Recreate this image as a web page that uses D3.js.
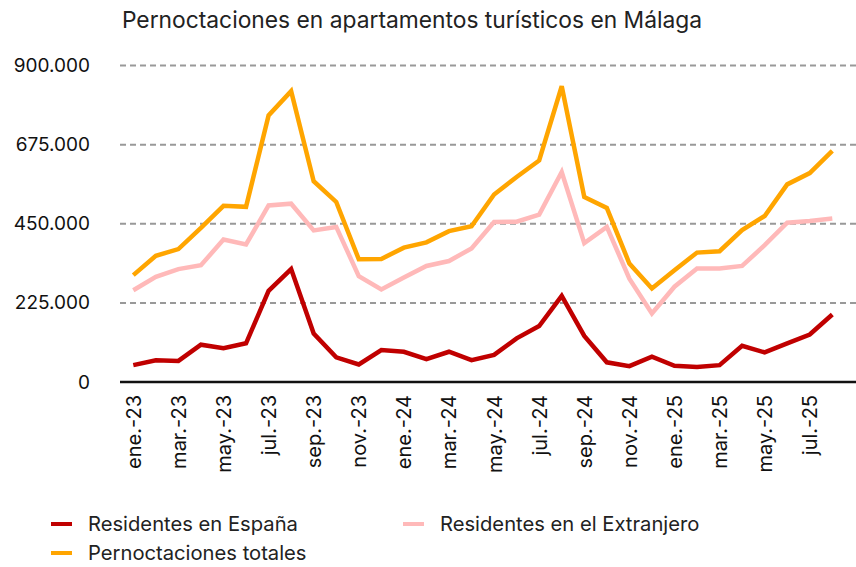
<!DOCTYPE html>
<html>
<head>
<meta charset="utf-8">
<script src="https://cdn.jsdelivr.net/npm/d3@7"></script>
<style>
  body { margin: 0; background: #fff; }
  svg { display: block; font-family: Inter, sans-serif; }
</style>
</head>
<body>
<div id="chart"></div>
<script>
let months = [
  "ene.-23", "feb.-23", "mar.-23", "abr.-23", "may.-23", "jun.-23", "jul.-23", "ago.-23",
  "sep.-23", "oct.-23", "nov.-23", "dic.-23", "ene.-24", "feb.-24", "mar.-24", "abr.-24",
  "may.-24", "jun.-24", "jul.-24", "ago.-24", "sep.-24", "oct.-24", "nov.-24", "dic.-24",
  "ene.-25", "feb.-25", "mar.-25", "abr.-25", "may.-25", "jun.-25", "jul.-25", "ago.-25"
];

let residentesEspana = [
  48000, 62000, 60000, 106000, 96000, 110000, 259000, 321000,
  138000, 70000, 50000, 91000, 86000, 65000, 86000, 62000,
  77000, 124000, 159000, 245000, 131000, 56000, 45000, 72000,
  46000, 43000, 48000, 103000, 84000, 110000, 135000, 192000
];

let residentesExtranjero = [
  261000, 299000, 321000, 332000, 405000, 391000, 502000, 507000,
  431000, 441000, 301000, 263000, 297000, 330000, 344000, 380000,
  455000, 456000, 476000, 597000, 395000, 441000, 294000, 195000,
  271000, 323000, 323000, 330000, 389000, 453000, 458000, 465000
];

let pernoctacionesTotales = [
  304000, 359000, 378000, 438000, 501000, 498000, 758000, 827000,
  571000, 512000, 349000, 350000, 382000, 397000, 429000, 443000,
  533000, 583000, 630000, 841000, 526000, 495000, 337000, 266000,
  318000, 368000, 372000, 432000, 472000, 562000, 594000, 657000
];

let yTicks = [0, 225000, 450000, 675000, 900000];

let series = [
  { name: "Residentes en España", values: residentesEspana, color: "#c00000" },
  { name: "Residentes en el Extranjero", values: residentesExtranjero, color: "#ffb9b9" },
  { name: "Pernoctaciones totales", values: pernoctacionesTotales, color: "#ffa500" }
];

let width = 856, height = 567;

let svg = d3.select("#chart")
  .append("svg")
  .attr("width", width)
  .attr("height", height);

let x = d3.scalePoint().domain(months).range([133.3, 832.3]);
let y = d3.scaleLinear().domain([0, 900000]).range([382, 65.5]);

let fmt = d3.formatLocale({ decimal: ",", thousands: ".", grouping: [3], currency: ["", "€"] }).format(",d");

// title
svg.append("text")
  .attr("x", 412)
  .attr("y", 28)
  .attr("text-anchor", "middle")
  .style("font-size", "22.8px")
  .style("fill", "#222")
  .text("Pernoctaciones en apartamentos turísticos en Málaga");

// gridlines
svg.append("g")
  .selectAll("line")
  .data(yTicks.filter(d => d > 0))
  .enter()
  .append("line")
  .attr("x1", 120)
  .attr("x2", 856)
  .attr("y1", d => y(d))
  .attr("y2", d => y(d))
  .attr("stroke", "#999")
  .attr("stroke-width", 2)
  .attr("stroke-dasharray", "6,4");

// y axis labels
let yAxis = svg.append("g")
  .attr("transform", "translate(120,0)")
  .call(d3.axisLeft(y).tickValues(yTicks).tickFormat(fmt).tickSize(0).tickPadding(30));
yAxis.select(".domain").remove();
yAxis.selectAll("text")
  .style("font-size", "19px")
  .style("font-family", "Inter, sans-serif")
  .style("fill", "#111");

// x axis
let xAxis = svg.append("g")
  .attr("transform", "translate(0," + y(0) + ")")
  .call(d3.axisBottom(x).tickValues(months.filter((d, i) => i % 2 === 0)).tickSize(0).tickPadding(0));
xAxis.select(".domain").remove();
xAxis.selectAll("text")
  .attr("transform", "rotate(-90)")
  .attr("text-anchor", "end")
  .attr("x", -13)
  .attr("y", 0)
  .attr("dy", "0.35em")
  .style("font-size", "20px")
  .style("font-family", "Inter, sans-serif")
  .style("fill", "#111");

svg.append("line")
  .attr("x1", 120)
  .attr("x2", 856)
  .attr("y1", y(0))
  .attr("y2", y(0))
  .attr("stroke", "#111")
  .attr("stroke-width", 2.5);

// lines
let line = d3.line()
  .x((d, i) => x(months[i]))
  .y(d => y(d));

svg.append("g")
  .selectAll("path")
  .data(series)
  .enter()
  .append("path")
  .attr("d", d => line(d.values))
  .attr("fill", "none")
  .attr("stroke", d => d.color)
  .attr("stroke-width", 4.5)
  .attr("stroke-linejoin", "miter");

// legend
let legendPos = [[51, 524], [403, 524], [51, 553]];
let legend = svg.append("g")
  .selectAll("g")
  .data(series)
  .enter()
  .append("g")
  .attr("transform", (d, i) => "translate(" + legendPos[i][0] + "," + legendPos[i][1] + ")");

legend.append("line")
  .attr("x1", 0)
  .attr("x2", 21)
  .attr("stroke", d => d.color)
  .attr("stroke-width", 4);

legend.append("text")
  .attr("x", 37)
  .attr("dy", "0.35em")
  .style("font-size", "20.2px")
  .style("fill", "#222")
  .text(d => d.name);
</script>
</body>
</html>
